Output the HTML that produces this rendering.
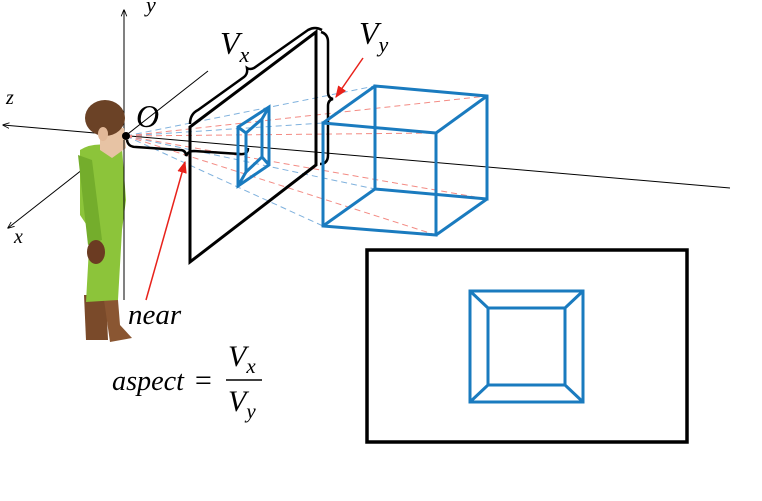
<!DOCTYPE html>
<html><head><meta charset="utf-8"><style>
html,body{margin:0;padding:0;background:#fff}
svg{display:block}
text{font-family:"Liberation Serif",serif;font-style:italic}
</style></head><body>
<svg width="762" height="501" viewBox="0 0 762 501">
<defs>
<marker id="ah" viewBox="0 0 10 10" refX="9" refY="5" markerWidth="7" markerHeight="7" orient="auto"><path d="M0,1 L10,5 L0,9" fill="none" stroke="#000" stroke-width="1.2"/></marker>
<marker id="ahr" viewBox="0 0 10 10" refX="9" refY="5" markerWidth="8" markerHeight="8" orient="auto"><path d="M0,1 L10,5 L0,9 z" fill="#e8221b"/></marker>
</defs>
<g stroke="#000" stroke-width="1">
<line x1="124" y1="250" x2="124" y2="10" marker-end="url(#ah)"/>
<line x1="730" y1="188" x2="3" y2="125" marker-end="url(#ah)"/>
<line x1="208" y1="71" x2="8" y2="228" marker-end="url(#ah)"/>
</g>
<g>
<path d="M84,295 L106,295 L108,340 L86,340 Z" fill="#7a4a2a"/>
<path d="M104,300 L118,300 L120,325 L132,338 L110,342 Z" fill="#8a5632"/>
<path d="M80,150 Q95,140 122,148 L126,200 L122,230 L118,300 L86,302 L90,230 L80,215 Z" fill="#8cc43a"/>
<path d="M78,155 L92,160 L102,240 L88,245 Z" fill="#74ad2c"/>
<ellipse cx="96" cy="252" rx="9" ry="12" fill="#6b3b22"/>
<path d="M100,128 L124,128 L126,148 L112,158 L100,150 Z" fill="#e7c3a4"/>
<ellipse cx="105" cy="118" rx="20" ry="18" fill="#6b4226"/>
<ellipse cx="103" cy="134" rx="5" ry="7" fill="#e2b898"/>
</g>
<line x1="124" y1="140" x2="124" y2="300" stroke="#000" stroke-width="1"/>
<g stroke-width="1" stroke-dasharray="6,4" fill="none">
<line x1="126" y1="136" x2="375" y2="86" stroke="#7fb1dd"/>
<line x1="126" y1="136" x2="323" y2="123" stroke="#7fb1dd"/>
<line x1="126" y1="136" x2="323" y2="226" stroke="#7fb1dd"/>
<line x1="126" y1="136" x2="375" y2="189" stroke="#7fb1dd"/>
<line x1="126" y1="136" x2="487" y2="96" stroke="#f38b84"/>
<line x1="126" y1="136" x2="436" y2="133" stroke="#f38b84"/>
<line x1="126" y1="136" x2="436" y2="235" stroke="#f38b84"/>
<line x1="126" y1="136" x2="487" y2="199" stroke="#f38b84"/>
</g>
<circle cx="126" cy="136" r="4" fill="#000"/>
<polygon points="190,127 316,32 316,165 190,262" fill="none" stroke="#000" stroke-width="3"/>
<g fill="none" stroke="#000" stroke-width="2.5">
<path d="M190,124 Q190,114 198,110 L244,77 Q248,74 247,68 Q250,70 254,68 L308,30 Q315,26 322,30"/>
<path d="M321,32 Q328,34 328,42 L328,92 Q328,98 333,99 Q328,100 328,106 L328,155 Q328,164 320,164"/>
<path d="M127,140 Q128,147 136,147 L180,150 Q186,150 186,156 Q188,151 194,151 L240,154 Q248,155 248,148"/>
</g>
<g fill="none" stroke="#1a7bbf" stroke-width="3">
<polygon points="238,127 269,107 269,165 238,186"/>
<polygon points="246,133 262,119 262,157 246,172"/>
<line x1="238" y1="127" x2="246" y2="133"/><line x1="269" y1="107" x2="262" y2="119"/>
<line x1="269" y1="165" x2="262" y2="157"/><line x1="238" y1="186" x2="246" y2="172"/>
</g>
<g fill="none" stroke="#1a7bbf" stroke-width="3">
<polygon points="375,86 487,96 487,199 375,189"/>
<polygon points="323,123 436,133 436,235 323,226"/>
<line x1="323" y1="123" x2="375" y2="86"/><line x1="436" y1="133" x2="487" y2="96"/>
<line x1="436" y1="235" x2="487" y2="199"/><line x1="323" y1="226" x2="375" y2="189"/>
</g>
<line x1="146" y1="300" x2="185" y2="162" stroke="#e8221b" stroke-width="1.5" marker-end="url(#ahr)"/>
<line x1="363" y1="58" x2="336" y2="97" stroke="#e8221b" stroke-width="1.5" marker-end="url(#ahr)"/>
<rect x="367" y="250" width="320" height="192" fill="none" stroke="#000" stroke-width="3.5"/>
<g fill="none" stroke="#1a7bbf" stroke-width="3">
<rect x="470" y="291" width="113" height="111"/>
<rect x="488" y="308" width="77" height="77"/>
<line x1="470" y1="291" x2="488" y2="308"/><line x1="583" y1="291" x2="565" y2="308"/>
<line x1="583" y1="402" x2="565" y2="385"/><line x1="470" y1="402" x2="488" y2="385"/>
</g>
<text x="146" y="12" font-size="22">y</text>
<text x="6" y="104" font-size="20">z</text>
<text x="14" y="243" font-size="20">x</text>
<text x="136" y="127" font-size="32">O</text>
<text x="220" y="54" font-size="32">V<tspan font-size="22" dy="8">x</tspan></text>
<text x="359" y="44" font-size="32">V<tspan font-size="22" dy="8">y</tspan></text>
<text x="128" y="324" font-size="29">near</text>
<g>
<text x="112" y="390" font-size="29" textLength="72" lengthAdjust="spacingAndGlyphs">aspect</text>
<text x="193" y="390" font-size="30" font-style="normal">=</text>
<text x="228" y="366" font-size="30">V<tspan font-size="21" dy="7">x</tspan></text>
<line x1="226" y1="380" x2="262" y2="380" stroke="#000" stroke-width="1.5"/>
<text x="228" y="411" font-size="30">V<tspan font-size="21" dy="7">y</tspan></text>
</g>
</svg>
</body></html>
